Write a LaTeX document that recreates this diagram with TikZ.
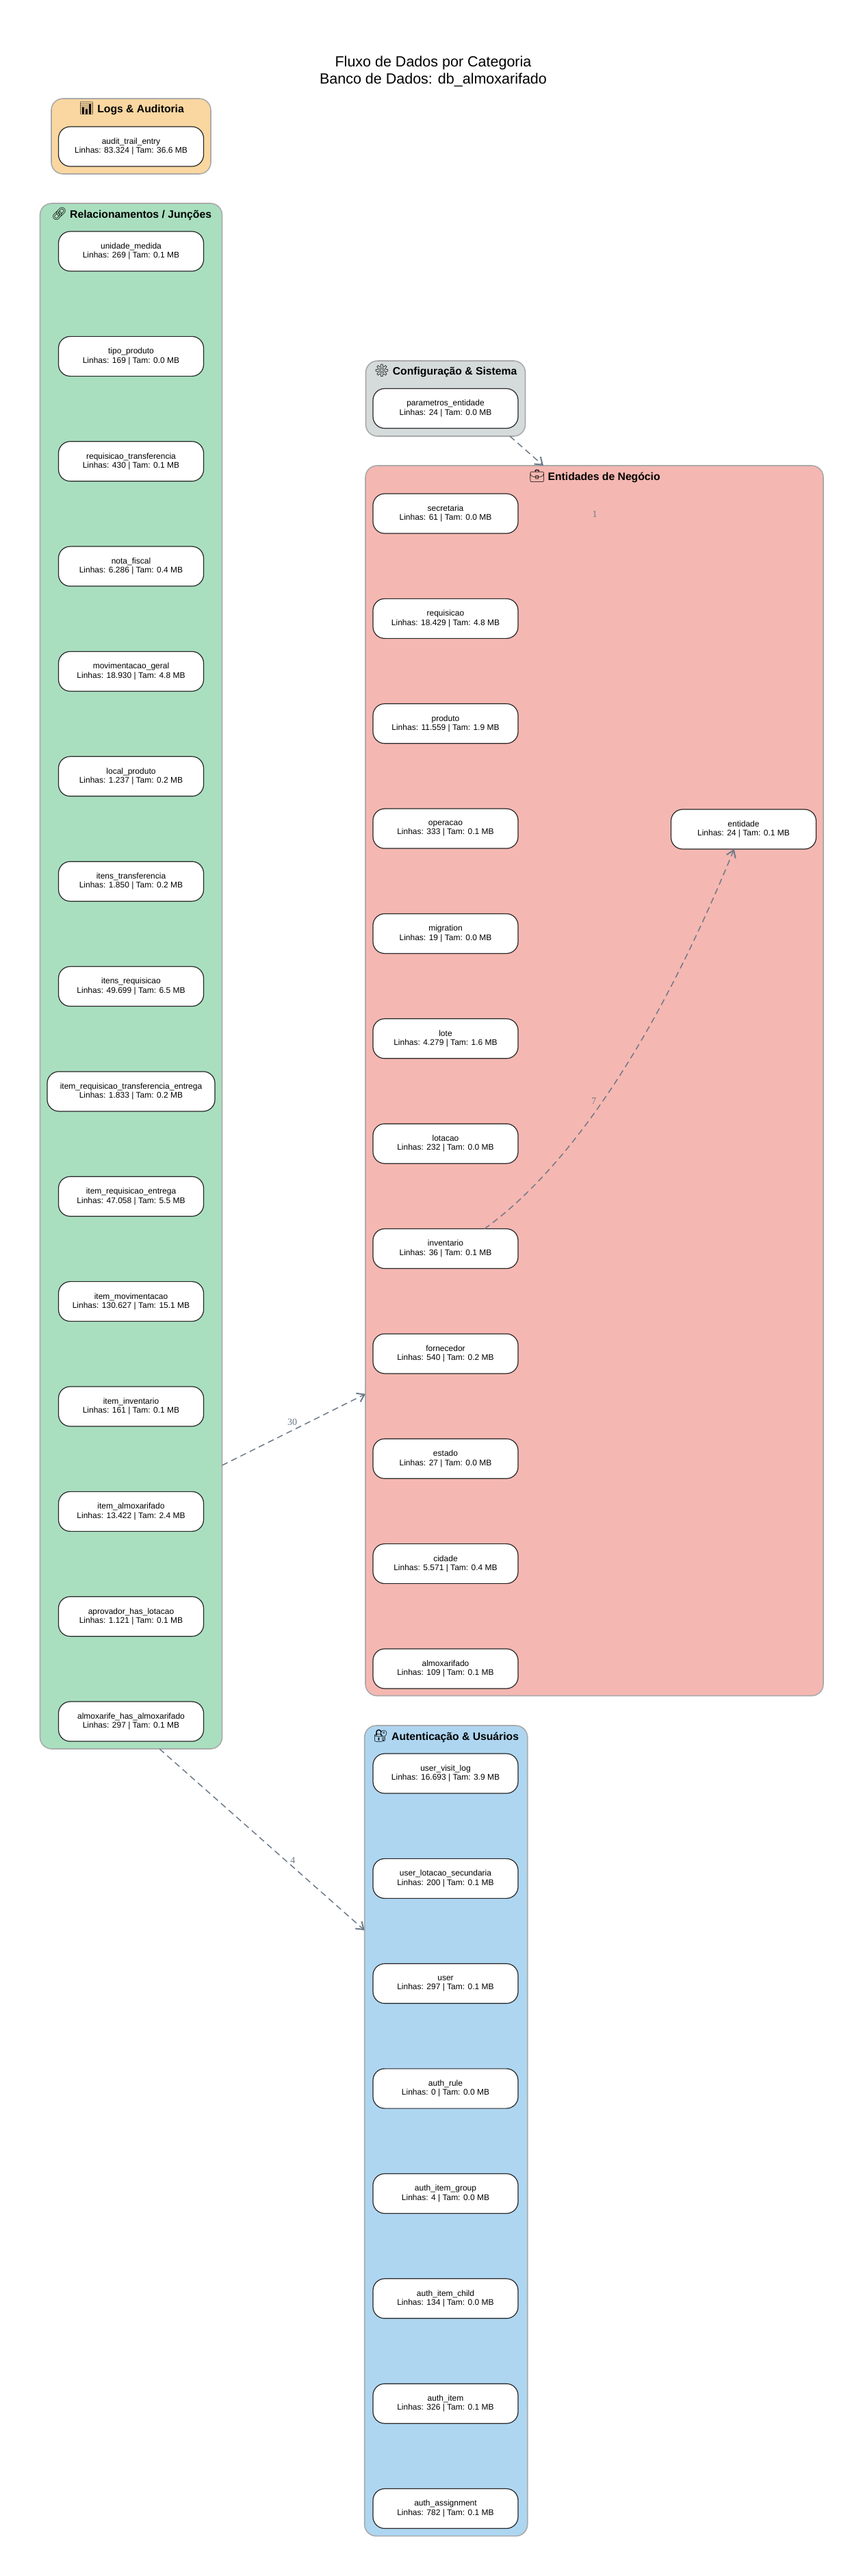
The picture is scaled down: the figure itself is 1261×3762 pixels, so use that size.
\documentclass[tikz,border=0pt]{standalone}
\usepackage{fontspec}
\setmainfont{Liberation Sans}
\newfontfamily\emojifont{Noto Emoji}
\newfontfamily\serifcount{Liberation Serif}
\usetikzlibrary{arrows.meta}
\definecolor{corlogs}{HTML}{FAD7A0}
\definecolor{correl}{HTML}{A9DFBF}
\definecolor{corconfig}{HTML}{D5DBDB}
\definecolor{cornegocio}{HTML}{F5B7B1}
\definecolor{corauth}{HTML}{AED6F1}
\definecolor{corborda}{HTML}{AAAAAA}
\definecolor{corseta}{HTML}{6C7A89}
\newcommand{\tabela}[3]{#1\\Linhas: #2 | Tam: #3 MB}
\newcommand{\icone}[1]{{\fontsize{18}{18}\emojifont #1}}
\tikzset{
  painel/.style={draw=corborda,line width=1.6pt,rounded corners=17pt,outer sep=0pt},
  tabelabox/.style={draw=black!85,fill=white,line width=1.2pt,rounded corners=17pt,minimum width=212pt,minimum height=58pt,inner xsep=10pt,inner ysep=0pt,outer sep=0pt,align=center,font=\fontsize{12}{13.4}\selectfont},
  grupotitulo/.style={font=\fontsize{15.7}{18}\selectfont\bfseries,inner sep=0pt},
  fluxo/.style={->,color=corseta,line width=1.5pt,dash pattern=on 9pt off 6pt},
  contagem/.style={text=corseta,font=\fontsize{14}{16}\serifcount,inner sep=0pt}
}
\begin{document}
\begin{tikzpicture}[x=1pt,y=-1pt,>={Straight Barb[length=10pt,width=14pt,line width=2pt]},node distance=153.36pt]
  \useasboundingbox (0,0) rectangle (1261,3762);
  \node[align=center,inner sep=0pt,font=\fontsize{21.5}{25}\selectfont] (titulo) at (633,104.5) {Fluxo de Dados por Categoria\\Banco de Dados: db\_almoxarifado};

  % grupos
  \node[painel,fill=corlogs,minimum width=233pt,minimum height=110pt] (logs) at (191.5,199) {};
  \node[painel,fill=correl,minimum width=266pt,minimum height=2257pt] (relac) at (191.5,1425.5) {};
  \node[painel,fill=corconfig,minimum width=233pt,minimum height=110pt] (config) at (651,582) {};
  \node[painel,fill=cornegocio,minimum width=669pt,minimum height=1796.5pt] (negocio) at (868.5,1578.25) {};
  \node[painel,fill=corauth,minimum width=238pt,minimum height=1183.6pt] (auth) at (651.7,3111.8) {};

  \node[grupotitulo] (tit_logs) at (192,159) {\icone{📊} Logs \& Auditoria};
  \node[grupotitulo] (tit_relac) at (192,312.7) {\icone{🔗} Relacionamentos / Junções};
  \node[grupotitulo] (tit_config) at (651,542) {\icone{⚙} Configuração \& Sistema};
  \node[grupotitulo] (tit_negocio) at (869,696) {\icone{💼} Entidades de Negócio};
  \node[grupotitulo] (tit_auth) at (651.5,2535) {\icone{🔐} Autenticação \& Usuários};

  % logs
  \node[tabelabox] (audit_trail_entry) at (191.5,214) {\tabela{audit\_trail\_entry}{83.324}{36.6}};

  % relacionamentos
  \node[tabelabox] (unidade_medida) at (191.5,367) {\tabela{unidade\_medida}{269}{0.1}};
  \node[tabelabox] (tipo_produto) [below of=unidade_medida] {\tabela{tipo\_produto}{169}{0.0}};
  \node[tabelabox] (requisicao_transferencia) [below of=tipo_produto] {\tabela{requisicao\_transferencia}{430}{0.1}};
  \node[tabelabox] (nota_fiscal) [below of=requisicao_transferencia] {\tabela{nota\_fiscal}{6.286}{0.4}};
  \node[tabelabox] (movimentacao_geral) [below of=nota_fiscal] {\tabela{movimentacao\_geral}{18.930}{4.8}};
  \node[tabelabox] (local_produto) [below of=movimentacao_geral] {\tabela{local\_produto}{1.237}{0.2}};
  \node[tabelabox] (itens_transferencia) [below of=local_produto] {\tabela{itens\_transferencia}{1.850}{0.2}};
  \node[tabelabox] (itens_requisicao) [below of=itens_transferencia] {\tabela{itens\_requisicao}{49.699}{6.5}};
  \node[tabelabox,minimum width=245pt] (item_req_transf_entrega) [below of=itens_requisicao] {\tabela{item\_requisicao\_transferencia\_entrega}{1.833}{0.2}};
  \node[tabelabox] (item_requisicao_entrega) [below of=item_req_transf_entrega] {\tabela{item\_requisicao\_entrega}{47.058}{5.5}};
  \node[tabelabox] (item_movimentacao) [below of=item_requisicao_entrega] {\tabela{item\_movimentacao}{130.627}{15.1}};
  \node[tabelabox] (item_inventario) [below of=item_movimentacao] {\tabela{item\_inventario}{161}{0.1}};
  \node[tabelabox] (item_almoxarifado) [below of=item_inventario] {\tabela{item\_almoxarifado}{13.422}{2.4}};
  \node[tabelabox] (aprovador_has_lotacao) [below of=item_almoxarifado] {\tabela{aprovador\_has\_lotacao}{1.121}{0.1}};
  \node[tabelabox] (almoxarife_has_almoxarifado) [below of=aprovador_has_lotacao] {\tabela{almoxarife\_has\_almoxarifado}{297}{0.1}};

  % configuracao
  \node[tabelabox] (parametros_entidade) at (651,596.5) {\tabela{parametros\_entidade}{24}{0.0}};

  % negocio
  \node[tabelabox] (secretaria) at (651,750) {\tabela{secretaria}{61}{0.0}};
  \node[tabelabox] (requisicao) [below of=secretaria] {\tabela{requisicao}{18.429}{4.8}};
  \node[tabelabox] (produto) [below of=requisicao] {\tabela{produto}{11.559}{1.9}};
  \node[tabelabox] (operacao) [below of=produto] {\tabela{operacao}{333}{0.1}};
  \node[tabelabox] (migration) [below of=operacao] {\tabela{migration}{19}{0.0}};
  \node[tabelabox] (lote) [below of=migration] {\tabela{lote}{4.279}{1.6}};
  \node[tabelabox] (lotacao) [below of=lote] {\tabela{lotacao}{232}{0.0}};
  \node[tabelabox] (inventario) [below of=lotacao] {\tabela{inventario}{36}{0.1}};
  \node[tabelabox] (fornecedor) [below of=inventario] {\tabela{fornecedor}{540}{0.2}};
  \node[tabelabox] (estado) [below of=fornecedor] {\tabela{estado}{27}{0.0}};
  \node[tabelabox] (cidade) [below of=estado] {\tabela{cidade}{5.571}{0.4}};
  \node[tabelabox] (almoxarifado) [below of=cidade] {\tabela{almoxarifado}{109}{0.1}};
  \node[tabelabox] (entidade) at (1086.5,1211) {\tabela{entidade}{24}{0.1}};
  \node[contagem] (um) at (869,751) {1};

  % autenticacao
  \node[tabelabox] (user_visit_log) at (651,2590) {\tabela{user\_visit\_log}{16.693}{3.9}};
  \node[tabelabox] (user_lotacao_secundaria) [below of=user_visit_log] {\tabela{user\_lotacao\_secundaria}{200}{0.1}};
  \node[tabelabox] (user) [below of=user_lotacao_secundaria] {\tabela{user}{297}{0.1}};
  \node[tabelabox] (auth_rule) [below of=user] {\tabela{auth\_rule}{0}{0.0}};
  \node[tabelabox] (auth_item_group) [below of=auth_rule] {\tabela{auth\_item\_group}{4}{0.0}};
  \node[tabelabox] (auth_item_child) [below of=auth_item_group] {\tabela{auth\_item\_child}{134}{0.0}};
  \node[tabelabox] (auth_item) [below of=auth_item_child] {\tabela{auth\_item}{326}{0.1}};
  \node[tabelabox] (auth_assignment) [below of=auth_item] {\tabela{auth\_assignment}{782}{0.1}};

  % fluxos
  \draw[fluxo] ([xshift=94pt]config.south) -- ([xshift=-74.5pt]negocio.north);
  \draw[fluxo] ([yshift=-714.5pt]relac.east) -- node[contagem,pos=.49,above=7pt] {30} ([yshift=-457.5pt]negocio.west);
  \draw[fluxo] ([xshift=41.5pt]relac.south) -- node[contagem,pos=.65,above=4pt] {4} ([yshift=292.8pt]auth.west);
  \draw[fluxo] ([xshift=57pt]inventario.north) .. controls (804,1725) and (936,1573) .. node[contagem,pos=.5,above left=3pt] {7} ([xshift=-13.8pt]entidade.south);
\end{tikzpicture}
\end{document}
